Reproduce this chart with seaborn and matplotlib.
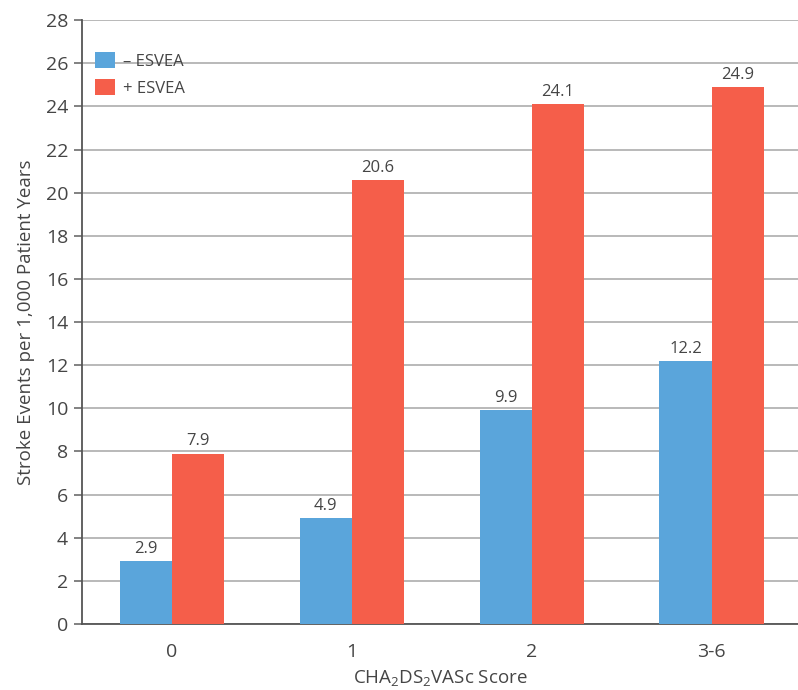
import matplotlib
matplotlib.use("Agg")
import matplotlib.pyplot as plt
import seaborn as sns
import pandas as pd

categories = ["0", "1", "2", "3-6"]
minus_esvea = [2.9, 4.9, 9.9, 12.2]
plus_esvea = [7.9, 20.6, 24.1, 24.9]
series_names = ["\u2013 ESVEA", "+ ESVEA"]
y_ticks = list(range(0, 29, 2))

df = pd.DataFrame({
    "score": categories * 2,
    "rate": minus_esvea + plus_esvea,
    "group": [series_names[0]] * len(categories) + [series_names[1]] * len(categories),
})

sns.set_theme(style="white")
plt.rcParams["font.family"] = ["Open Sans", "DejaVu Sans"]
plt.rcParams["mathtext.fontset"] = "custom"
plt.rcParams["mathtext.rm"] = "Open Sans"
plt.rcParams["mathtext.it"] = "Open Sans"
plt.rcParams["mathtext.default"] = "rm"
text_color = "#454545"
colors = ["#5aa5db", "#f55e4a"]

fig = plt.figure(figsize=(7.98, 6.9), dpi=100)
ax = fig.add_axes([0.1028, 0.0957, 0.8972, 0.875])

sns.barplot(data=df, x="score", y="rate", hue="group", order=categories,
            hue_order=series_names, palette=colors, width=0.58, saturation=1,
            edgecolor="none", linewidth=0, ax=ax, zorder=3)

for cont in ax.containers:
    ax.bar_label(cont, fmt="%.1f", padding=3, fontsize=12, color=text_color,
                 fontweight="medium")

ax.set_ylim(0, 28)
ax.set_xlim(-0.5, 3.48)
ax.set_yticks(y_ticks)
ax.yaxis.grid(True, color="#b3b3b3", linewidth=1.3, zorder=0)
ax.set_axisbelow(True)

for side in ["top", "right"]:
    ax.spines[side].set_visible(False)
for side in ["left", "bottom"]:
    ax.spines[side].set_color("#555555")
    ax.spines[side].set_linewidth(1.3)

ax.tick_params(axis="y", which="major", left=True, length=6, width=1.3,
               color="#777777", labelsize=14, labelcolor=text_color, pad=4)
ax.tick_params(axis="x", bottom=False, labelsize=14, labelcolor=text_color, pad=8)

ax.set_xlabel("CHA$_2$DS$_2$VASc Score", fontsize=13.5, color=text_color,
              labelpad=5, fontweight="medium")
ax.set_ylabel("Stroke Events per 1,000 Patient Years", fontsize=13.5,
              color=text_color, labelpad=8, fontweight="medium")

leg = ax.legend(loc="upper left", frameon=False, fontsize=12,
                handlelength=1.15, handleheight=1.15, handletextpad=0.5,
                labelspacing=0.55, bbox_to_anchor=(0.0, 0.97), borderaxespad=0.4)
for t in leg.get_texts():
    t.set_color(text_color)
    t.set_fontweight("medium")

fig.savefig("out.png", dpi=100)
